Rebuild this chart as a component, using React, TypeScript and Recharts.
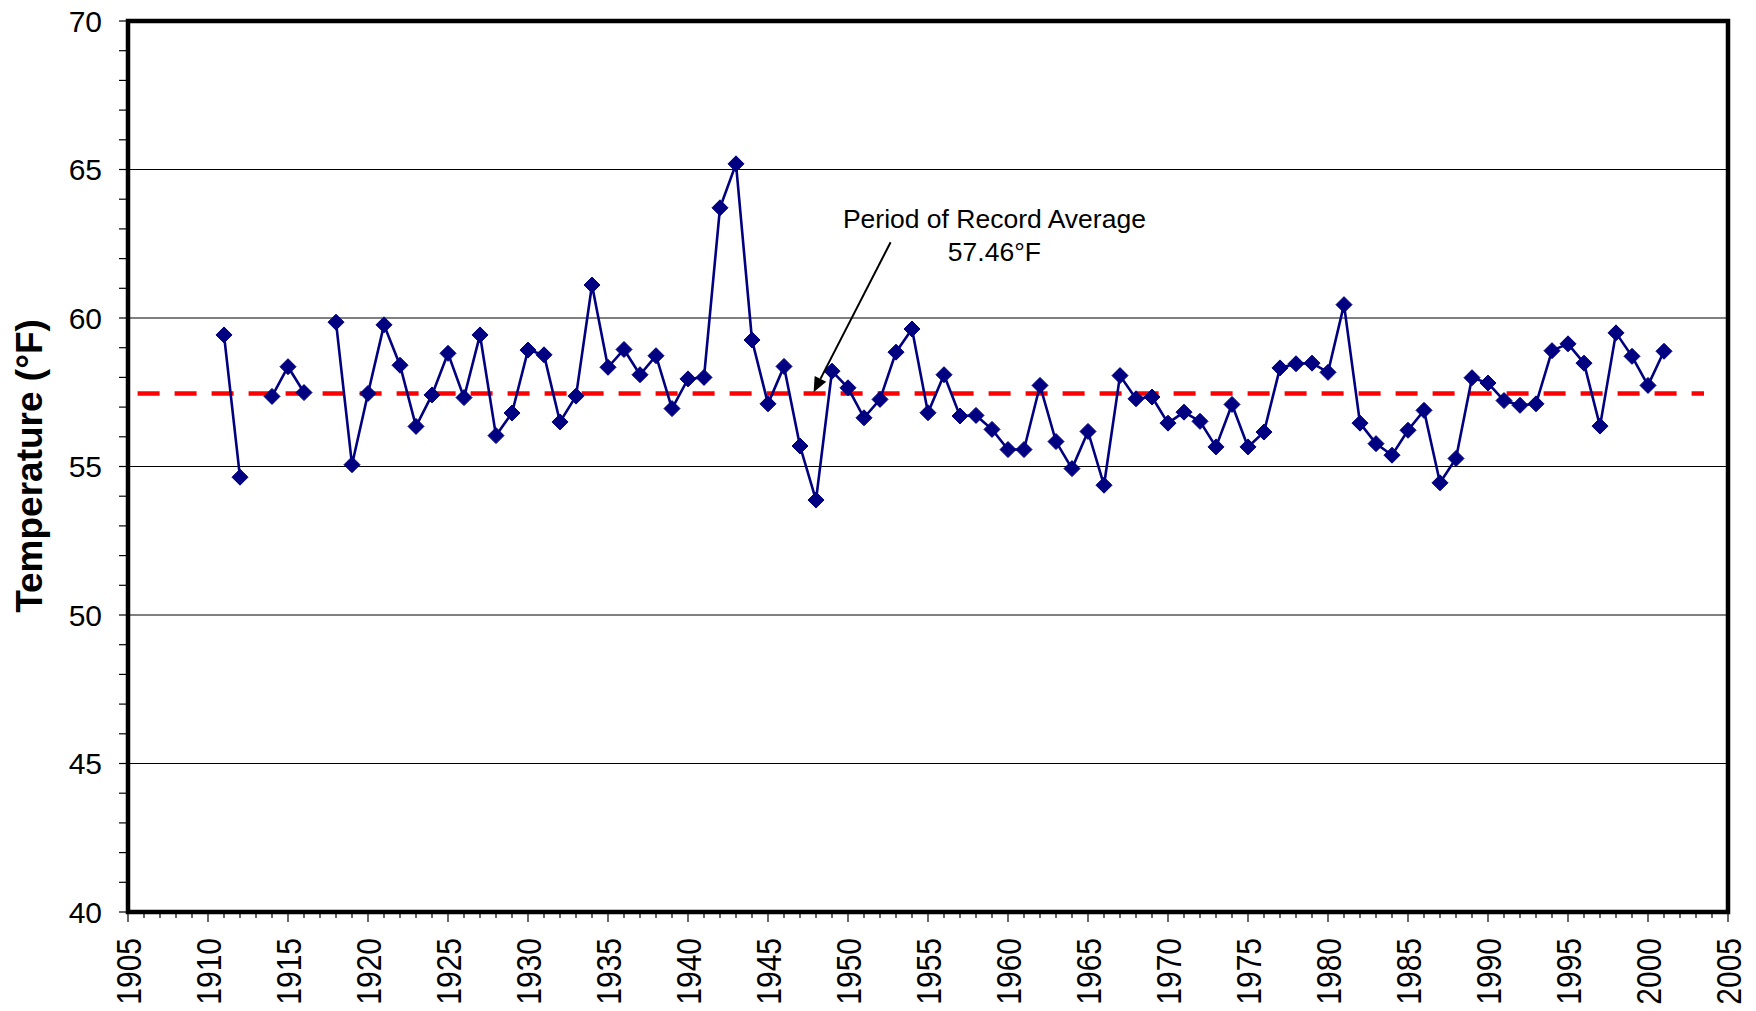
import React from 'react';
import { LineChart, Line, XAxis, YAxis, ReferenceLine, ReferenceArea, ReferenceDot, Customized } from 'recharts';

// ---- data ----
const firstYear = 1911;
const temps: (number | null)[] = [
  59.43, 54.64, null, 57.36, 58.36, 57.49, null, 59.86, 55.06, 57.46,
  59.77, 58.41, 56.35, 57.41, 58.81, 57.32, 59.43, 56.04, 56.8, 58.92,
  58.76, 56.5, 57.37, 61.11, 58.34, 58.94, 58.09, 58.73, 56.95, 57.95,
  58.0, 63.71, 65.19, 59.26, 57.11, 58.37, 55.69, 53.87, 58.21, 57.65,
  56.64, 57.26, 58.85, 59.63, 56.81, 58.09, 56.7, 56.72, 56.25, 55.57,
  55.57, 57.73, 55.84, 54.93, 56.18, 54.37, 58.06, 57.28, 57.34, 56.46,
  56.83, 56.52, 55.66, 57.09, 55.66, 56.16, 58.32, 58.46, 58.48, 58.17,
  60.45, 56.46, 55.77, 55.38, 56.22, 56.89, 54.45, 55.27, 57.99, 57.81,
  57.22, 57.06, 57.11, 58.9, 59.13, 58.48, 56.36, 59.5, 58.71, 57.73,
  58.88,
];
const years = temps.map((_, i) => firstYear + i);

const avgTemp = 57.46;
const avgLineStart = 1905.6;
const avgLineEnd = 2003.5;

const xMin = 1905;
const xMax = 2005;
const yMin = 40;
const yMax = 70;
const xTicks = Array.from({ length: xMax - xMin + 1 }, (_, i) => xMin + i);
const yTicks = Array.from({ length: yMax - yMin + 1 }, (_, i) => yMin + i);
const yGridValues = [45, 50, 55, 60, 65];

const annotationLines = ['Period of Record Average', '57.46°F'];
const annotationYear = 1959.15;
const annotationValue = 63.03;
const arrowTipYear = 1947.85;
const arrowTipValue = 57.5;

const yTitle = 'Temperature (°F)';

// ---- layout ----
const W = 1756;
const H = 1011;
const TOP = 21;
const RIGHT = 28;
const LEFT_AXIS_W = 128;
const X_AXIS_H = 99;
const PLOT_BOTTOM = H - X_AXIS_H;
const PLOT_LEFT = LEFT_AXIS_W;
const X_LABEL_TOP = 938;
const FONT = '"Liberation Sans", Arial, sans-serif';

const data = years.map((year, i) => ({ year, temp: temps[i] }));

const XTick = (props: any) => {
  const { x, payload } = props;
  const v = payload.value;
  const major = v % 5 === 0;
  return (
    <g>
      <line x1={x} x2={x} y1={PLOT_BOTTOM} y2={PLOT_BOTTOM + (major ? 10 : 6)} stroke="#000" strokeWidth={1.2} />
      {major && (
        <text
          x={0}
          y={0}
          transform={`translate(${x}, ${X_LABEL_TOP}) rotate(-90) scale(1, 1.18)`}
          textAnchor="end"
          dy="0.36em"
          fontFamily={FONT}
          fontSize={30}
          fill="#000"
        >
          {v}
        </text>
      )}
    </g>
  );
};

const YTick = (props: any) => {
  const { y, payload } = props;
  const v = payload.value;
  const major = v % 5 === 0;
  return (
    <g>
      <line x1={PLOT_LEFT - 9} x2={PLOT_LEFT} y1={y} y2={y} stroke="#000" strokeWidth={1.2} />
      {major && (
        <text x={102} y={y} dy="0.36em" textAnchor="end" fontFamily={FONT} fontSize={30} fill="#000">
          {v}
        </text>
      )}
    </g>
  );
};

const Diamond = (props: any) => {
  const { cx, cy, index } = props;
  if (cx == null || cy == null || props.value == null) return <g key={`d${index}`} />;
  const r = 8;
  return (
    <path
      key={`d${index}`}
      d={`M${cx},${cy - r}L${cx + r},${cy}L${cx},${cy + r}L${cx - r},${cy}Z`}
      fill="#000080"
      stroke="#000080"
      strokeWidth={1}
    />
  );
};

const ArrowShape = (props: any) => {
  const { cx, cy } = props;
  const sx = cx + 77;
  const sy = cy - 150;
  const ux = -77 / 168.6;
  const uy = 150 / 168.6;
  const len = 15;
  const hw = 6.5;
  const bx = cx - ux * len;
  const by = cy - uy * len;
  const px = uy;
  const py = -ux;
  return (
    <g>
      <line x1={sx} y1={sy} x2={bx} y2={by} stroke="#000" strokeWidth={2} />
      <path
        d={`M${cx},${cy}L${bx + px * hw},${by + py * hw}L${bx - px * hw},${by - py * hw}Z`}
        fill="#000"
      />
    </g>
  );
};

const AnnotationShape = (props: any) => {
  const { cx, cy } = props;
  return (
    <g>
      {annotationLines.map((t, i) => (
        <text key={i} x={cx} y={cy + i * 33} textAnchor="middle" fontFamily={FONT} fontSize={26.5} fill="#000">
          {t}
        </text>
      ))}
    </g>
  );
};

const YTitle = () => (
  <text
    x={42}
    y={466}
    transform="rotate(-90, 42, 466)"
    textAnchor="middle"
    fontFamily={FONT}
    fontWeight="bold"
    fontSize={37}
    fill="#000"
  >
    {yTitle}
  </text>
);

export default function App() {
  return (
    <div style={{ position: 'absolute', left: 0, top: 0, width: W, height: H, background: '#fff' }}>
      <LineChart width={W} height={H} data={data} margin={{ top: TOP, right: RIGHT, bottom: 0, left: 0 }}>
        <XAxis
          dataKey="year"
          type="number"
          domain={[xMin, xMax]}
          ticks={xTicks}
          interval={0}
          axisLine={false}
          tickLine={false}
          tick={<XTick />}
          height={X_AXIS_H}
          allowDataOverflow
        />
        <YAxis
          type="number"
          domain={[yMin, yMax]}
          ticks={yTicks}
          interval={0}
          axisLine={false}
          tickLine={false}
          tick={<YTick />}
          width={LEFT_AXIS_W}
          allowDataOverflow
        />
        {yGridValues.map((v) => (
          <ReferenceLine key={v} y={v} stroke="#000" strokeWidth={1} />
        ))}
        <ReferenceLine
          segment={[
            { x: avgLineStart, y: avgTemp },
            { x: avgLineEnd, y: avgTemp },
          ]}
          stroke="#ff0000"
          strokeWidth={4.5}
          strokeDasharray="22 15"
          ifOverflow="visible"
        />
        <Line
          dataKey="temp"
          stroke="#000080"
          strokeWidth={2.6}
          dot={Diamond}
          activeDot={false}
          isAnimationActive={false}
          connectNulls={false}
        />
        <ReferenceDot x={arrowTipYear} y={arrowTipValue} r={0} ifOverflow="visible" shape={ArrowShape} />
        <ReferenceDot x={annotationYear} y={annotationValue} r={0} ifOverflow="visible" shape={AnnotationShape} />
        <ReferenceArea
          x1={xMin}
          x2={xMax}
          y1={yMin}
          y2={yMax}
          fill="none"
          fillOpacity={0}
          stroke="#000"
          strokeWidth={4.5}
          ifOverflow="visible"
        />
        <Customized component={YTitle} />
      </LineChart>
    </div>
  );
}
